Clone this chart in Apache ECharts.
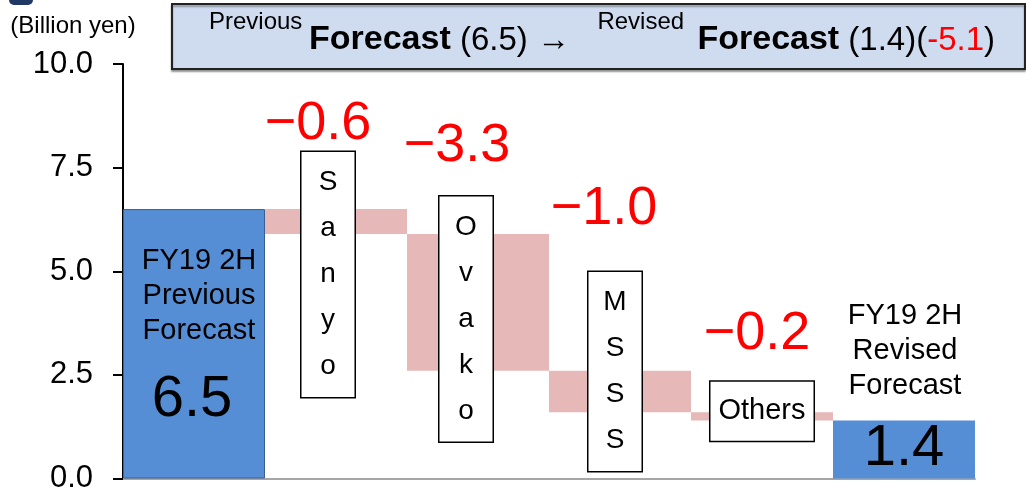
<!DOCTYPE html>
<html>
<head>
<meta charset="utf-8">
<script src="https://cdn.jsdelivr.net/npm/echarts@6/dist/echarts.min.js"></script>
<style>
  html, body { margin: 0; padding: 0; background: #fff; }
  #main { width: 1026px; height: 494px; }
</style>
</head>
<body>
<div id="main"></div>
<script>
// data (billion yen)
var categories = ['FY19 2H Previous Forecast', 'Sanyo', 'Ovako', 'MSSS', 'Others', 'FY19 2H Revised Forecast'];
var previousForecast = 6.5;
var changes = [-0.6, -3.3, -1.0, -0.2];
var revisedForecast = 1.4;
var totalChange = -5.1;
var yTicks = { min: 0, max: 10, step: 2.5 };

// where the annotations sit (value on y axis, x shift in px)
var deltaLabelAt = [[8.56, -18], [8.01, -21], [6.5, -16], [3.48, -5]];
var nameBoxAt = [[4.92, -8], [3.85, -12], [2.58, -5], [1.62, 0]];

var FONT = "'Liberation Sans', Arial, sans-serif";

// waterfall: transparent base + blue totals + pink changes
var base = [0];
var totals = [previousForecast];
var steps = ['-'];
var running = previousForecast;
changes.forEach(function (c) {
  running = Number((running + c).toFixed(2));
  base.push(running);
  totals.push('-');
  steps.push(Math.abs(c));
});
base.push(0);
totals.push(revisedForecast);
steps.push('-');

var markPoints = [];
changes.forEach(function (c, i) {
  var cat = categories[i + 1];
  markPoints.push({
    coord: [cat, deltaLabelAt[i][0]],
    label: {
      formatter: '\u2212' + Math.abs(c).toFixed(1),
      fontSize: 54,
      color: '#FF0000',
      offset: [deltaLabelAt[i][1], 0]
    }
  });
  var vertical = cat.length <= 5 && cat !== 'Others';
  markPoints.push({
    coord: [cat, nameBoxAt[i][0]],
    label: vertical ? {
      formatter: cat.split('').join('\n'),
      fontSize: 28,
      lineHeight: 46,
      width: 21,
      align: 'center',
      color: '#000',
      backgroundColor: '#fff',
      borderColor: '#000',
      borderWidth: 1.5,
      padding: [12, 16, 3, 16],
      offset: [nameBoxAt[i][1], 0]
    } : {
      formatter: cat,
      fontSize: 29,
      lineHeight: 35,
      color: '#000',
      backgroundColor: '#fff',
      borderColor: '#000',
      borderWidth: 1.5,
      padding: [12, 8, 12, 8],
      offset: [nameBoxAt[i][1], 0]
    }
  });
});

var myEcharts = echarts.init(document.getElementById('main'));
var option = {
  animation: false,
  textStyle: { fontFamily: FONT },
  grid: { left: 123, right: 51, top: 64, bottom: 13 },
  graphic: [
    { type: 'rect', shape: { x: 9, y: -20, width: 24, height: 25, r: 5 }, style: { fill: '#1F3864' } },
    {
      type: 'rect',
      shape: { x: 172, y: 4, width: 853, height: 65 },
      style: { fill: '#CFDBEE', stroke: '#222', lineWidth: 2, shadowColor: 'rgba(0,0,0,0.35)', shadowOffsetY: 2, shadowBlur: 2 }
    },
    {
      type: 'text',
      x: 602,
      y: 10,
      style: {
        text: '{s|Previous }{b|Forecast}{n| (6.5) \u2192   }{s|Revised  }{b|Forecast}{n| (1.4)(}{r|-' + Math.abs(totalChange).toFixed(1) + '}{n|)}',
        align: 'center',
        verticalAlign: 'top',
        fontFamily: FONT,
        rich: {
          s: { fontSize: 24, lineHeight: 24, verticalAlign: 'top', fill: '#000', fontFamily: FONT },
          b: { fontSize: 34, fontWeight: 'bold', lineHeight: 47, verticalAlign: 'bottom', fill: '#000', fontFamily: FONT },
          n: { fontSize: 33, lineHeight: 47, verticalAlign: 'bottom', fill: '#000', fontFamily: FONT },
          r: { fontSize: 33, lineHeight: 47, verticalAlign: 'bottom', fill: '#FF0000', fontFamily: FONT }
        }
      }
    }
  ],
  xAxis: {
    type: 'category',
    data: categories,
    axisLine: { lineStyle: { color: '#A6A6A6', width: 2 } },
    axisTick: { show: false },
    axisLabel: { show: false },
    splitLine: { show: false }
  },
  yAxis: {
    type: 'value',
    min: yTicks.min,
    max: yTicks.max,
    interval: yTicks.step,
    name: '(Billion yen)',
    nameLocation: 'end',
    nameGap: 26,
    nameTextStyle: { fontSize: 24, color: '#000', padding: [0, 100, 0, 0] },
    axisLine: { show: true, lineStyle: { color: '#000', width: 2 } },
    axisTick: { show: true, length: 10, lineStyle: { color: '#000', width: 2 } },
    axisLabel: {
      fontSize: 31,
      color: '#000',
      margin: 30,
      formatter: function (v) { return v.toFixed(1); }
    },
    splitLine: { show: false }
  },
  series: [
    {
      name: 'base',
      type: 'bar',
      stack: 'total',
      barWidth: '100%',
      barCategoryGap: 0,
      itemStyle: { color: 'rgba(0,0,0,0)' },
      emphasis: { disabled: true },
      data: base
    },
    {
      name: 'forecast',
      type: 'bar',
      stack: 'total',
      barWidth: '100%',
      itemStyle: { color: '#558ED5' },
      emphasis: { disabled: true },
      label: {
        show: true,
        fontSize: 58,
        color: '#000',
        formatter: function (p) { return p.value.toFixed(1); }
      },
      data: totals.map(function (v, i) {
        if (v === '-') return v;
        if (i === 0) {
          return {
            value: v,
            itemStyle: { borderColor: '#3A5F8F', borderWidth: 1 },
            label: { position: ['50%', '71%'], align: 'center', verticalAlign: 'middle', offset: [-2, 0] }
          };
        }
        return { value: v, label: { position: 'inside' } };
      }),
      markPoint: {
        symbol: 'rect',
        symbolSize: 1,
        itemStyle: { color: 'rgba(0,0,0,0)' },
        label: { show: true, position: 'inside', fontSize: 29, lineHeight: 35, color: '#000' },
        data: [
          { coord: [categories[0], 4.4], label: { formatter: 'FY19 2H\nPrevious\nForecast', offset: [5, 0] } },
          { coord: [categories[5], 3.07], label: { formatter: 'FY19 2H\nRevised\nForecast', offset: [1, 0] } }
        ]
      }
    },
    {
      name: 'change',
      type: 'bar',
      stack: 'total',
      barWidth: '100%',
      itemStyle: { color: '#E6B9B8' },
      emphasis: { disabled: true },
      data: steps,
      markPoint: {
        symbol: 'rect',
        symbolSize: 1,
        itemStyle: { color: 'rgba(0,0,0,0)' },
        label: { show: true, position: 'inside' },
        data: markPoints
      }
    }
  ]
};
myEcharts.setOption(option);
</script>
</body>
</html>
